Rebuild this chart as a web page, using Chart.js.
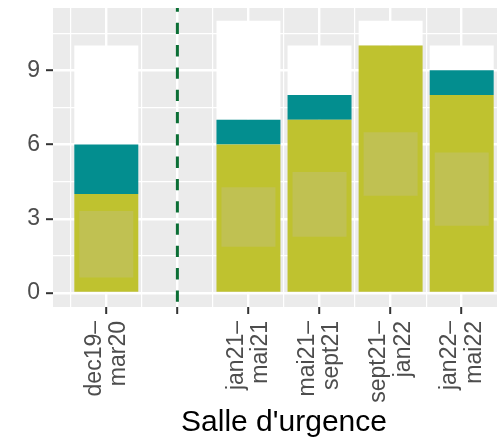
<!DOCTYPE html>
<html>
<head>
<meta charset="utf-8">
<script src="https://cdn.jsdelivr.net/npm/chart.js@4"></script>
<style>
  html, body { margin: 0; padding: 0; background: #fff; overflow: hidden; }
  /* the panel runs past the right edge of the picture, as in the reference */
  #wrap { width: 515px; height: 446px; }
</style>
</head>
<body>
<div id="wrap"><canvas id="chart" width="515" height="446"></canvas></div>
<script>
// periods (the empty one is the break between before / after)
const categories = [
  ["dec19–", "mar20"],
  [],
  ["jan21–", "mai21"],
  ["mai21–", "sept21"],
  ["sept21–", "jan22"],
  ["jan22–", "mai22"]
];
const oliveVals = [4, null, 6, 7, 10, 8];
const tealVals  = [2, null, 1, 1, 0, 1];
const totalVals = [10, null, 11, 10, 11, 10];
// lighter boxes inside the olive bars
const boxLow  = [0.62, null, 1.87, 2.27, 3.93, 2.72];
const boxHigh = [3.31, null, 4.27, 4.89, 6.5, 5.68];
const separatorAt = 1;
const yMajor = [0, 3, 6, 9];
const yMinor = [1.5, 4.5, 7.5, 10.5];

const OLIVE = "#BFC22F";
const TEAL = "#038E8F";
const BOX = "#C0C152";
const TXT = "#4D4D4D";
const FONT = "'Liberation Sans', Arial, sans-serif";

function pts(fn) {
  return categories.map((_, i) => ({ x: i, y: fn(i) }));
}

const panelBg = {
  id: "panelBg",
  beforeDraw(chart) {
    const { ctx, chartArea: a } = chart;
    ctx.save();
    ctx.fillStyle = "#EBEBEB";
    ctx.fillRect(a.left, a.top, a.right - a.left, a.bottom - a.top);
    ctx.restore();
  }
};

const separator = {
  id: "separator",
  afterDatasetsDraw(chart) {
    const { ctx, chartArea: a } = chart;
    const x = chart.scales.x.getPixelForValue(separatorAt);
    ctx.save();
    ctx.strokeStyle = "#0B6E35";
    ctx.lineWidth = 3;
    ctx.setLineDash([11.3, 11]);
    ctx.lineDashOffset = 17;
    ctx.beginPath();
    ctx.moveTo(x, a.bottom);
    ctx.lineTo(x, a.top);
    ctx.stroke();
    ctx.restore();
  }
};

const isMajor = v => Number.isInteger(v);
const noPad = axis => {
  axis.paddingLeft = 0; axis.paddingRight = 0;
  axis.paddingTop = 0; axis.paddingBottom = 0;
};

new Chart(document.getElementById("chart"), {
  type: "bar",
  data: {
    datasets: [
      {
        data: pts(i => boxLow[i] == null ? null : [boxLow[i], boxHigh[i]]),
        backgroundColor: BOX,
        barPercentage: 1.52
      },
      {
        data: pts(i => oliveVals[i]),
        backgroundColor: OLIVE
      },
      {
        data: pts(i => oliveVals[i] == null ? null : [oliveVals[i], oliveVals[i] + tealVals[i]]),
        backgroundColor: TEAL
      },
      {
        data: pts(i => oliveVals[i] == null ? null : [oliveVals[i] + tealVals[i], totalVals[i]]),
        backgroundColor: "#FFFFFF"
      }
    ]
  },
  options: {
    responsive: false,
    animation: false,
    events: [],
    layout: { padding: { top: 8, right: 0, left: 0, bottom: 0 } },
    datasets: {
      bar: {
        grouped: false,
        // ruler uses the half-step grid ticks, so width is doubled
        barPercentage: 1.8,
        categoryPercentage: 1,
        borderWidth: 0
      }
    },
    plugins: { legend: { display: false }, tooltip: { enabled: false } },
    scales: {
      x: {
        type: "linear",
        min: -0.75,
        max: 5.75,
        offset: false,
        afterBuildTicks: axis => {
          const t = [];
          for (let v = -0.5; v <= 5.5; v += 0.5) t.push({ value: v });
          axis.ticks = t;
        },
        afterFit: axis => { axis.height = 139; noPad(axis); },
        border: { display: false },
        grid: {
          offset: false,
          color: "#FFFFFF",
          lineWidth: c => (c.tick && isMajor(c.tick.value)) ? 2.4 : 1.2,
          drawTicks: true,
          tickLength: 7,
          tickWidth: 2,
          tickColor: c => (c.tick && isMajor(c.tick.value)) ? "#333333" : "rgba(0,0,0,0)"
        },
        ticks: {
          autoSkip: false,
          maxRotation: 90,
          minRotation: 90,
          padding: 7,
          labelOffset: -12,
          color: TXT,
          font: { family: FONT, size: 23, lineHeight: 1.07 },
          callback: v => isMajor(v) && categories[v] ? categories[v] : ""
        },
        title: {
          display: true,
          text: "Salle d'urgence",
          color: "#000000",
          font: { family: FONT, size: 30 },
          padding: { top: 0, bottom: 5 }
        }
      },
      y: {
        min: -0.57,
        max: 11.52,
        afterBuildTicks: axis => {
          axis.ticks = yMajor.concat(yMinor).sort((a, b) => a - b).map(v => ({ value: v }));
        },
        afterFit: axis => { axis.width = 53; noPad(axis); },
        border: { display: false },
        grid: {
          color: "#FFFFFF",
          lineWidth: c => (c.tick && yMajor.includes(c.tick.value)) ? 2.4 : 1.2,
          drawTicks: true,
          tickLength: 7,
          tickWidth: 2,
          tickColor: c => (c.tick && yMajor.includes(c.tick.value)) ? "#333333" : "rgba(0,0,0,0)"
        },
        ticks: {
          padding: 6,
          color: TXT,
          font: { family: FONT, size: 23 },
          callback: v => yMajor.includes(v) ? String(v) : ""
        }
      }
    }
  },
  plugins: [panelBg, separator]
});
</script>
</body>
</html>
